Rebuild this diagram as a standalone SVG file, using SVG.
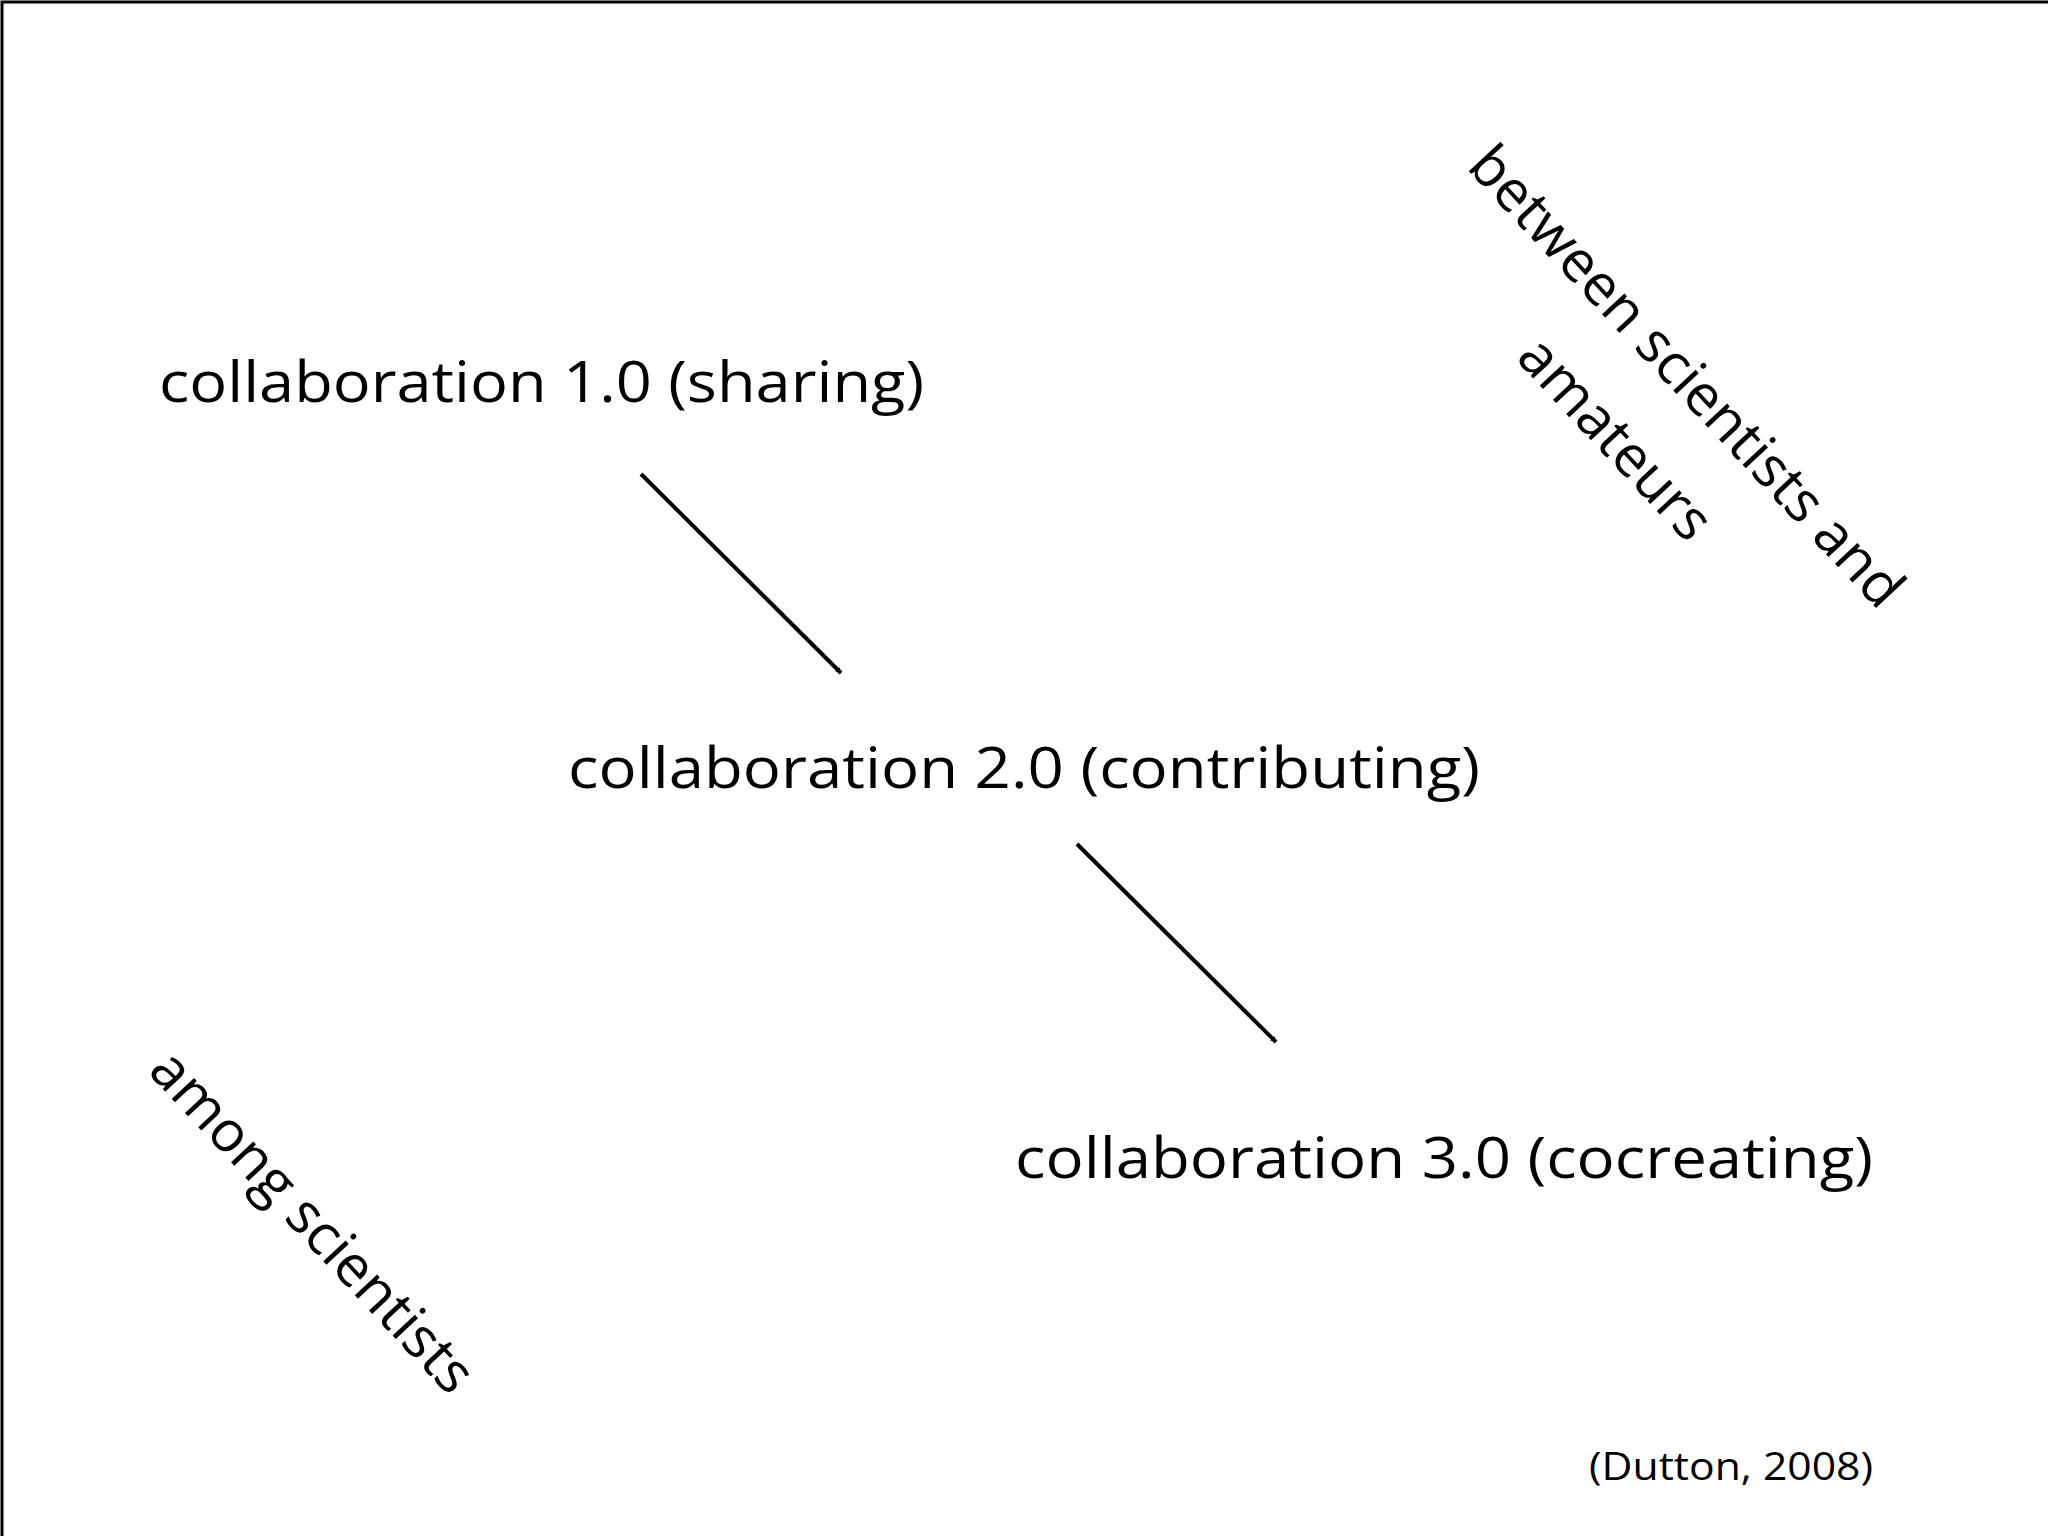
<svg xmlns="http://www.w3.org/2000/svg" width="2048" height="1536" viewBox="0 0 2048 1536">
<defs>
<style>
.t{font-family:"Open Sans","Liberation Sans",sans-serif;font-size:57px;fill:#000}
.c{stroke:#000;stroke-width:4;fill:none}
</style>
<marker id="ah" viewBox="0 0 10 10" refX="9" refY="5" markerWidth="6" markerHeight="6" orient="auto" markerUnits="userSpaceOnUse">
<path d="M0,0 L10,5 L0,10 z" fill="#000" transform="scale(1)"/>
</marker>
</defs>
<rect x="0" y="0" width="2048" height="1536" fill="#fff"/>
<rect x="2" y="2" width="2050" height="1540" fill="none" stroke="#000" stroke-width="3"/>
<g id="n1"><text class="t" x="159" y="402" textLength="765" lengthAdjust="spacingAndGlyphs">collaboration 1.0 (sharing)</text></g>
<g id="n2"><text class="t" x="568" y="788" textLength="912" lengthAdjust="spacingAndGlyphs">collaboration 2.0 (contributing)</text></g>
<g id="n3"><text class="t" x="1015" y="1178" textLength="858" lengthAdjust="spacingAndGlyphs">collaboration 3.0 (cocreating)</text></g>
<g id="among"><text class="t" text-anchor="middle" dy="0.35em" transform="translate(313,1221) rotate(47)">among scientists</text></g>
<g id="between"><text class="t" text-anchor="middle" dy="0.35em" transform="translate(1687,376) rotate(47)">between scientists and</text>
<text class="t" text-anchor="middle" dy="0.35em" transform="translate(1616,438) rotate(47)">amateurs</text></g>
<g id="cite"><text class="t" style="font-size:38px" x="1589" y="1480" textLength="284" lengthAdjust="spacingAndGlyphs">(Dutton, 2008)</text></g>
<g id="connectors">
<line class="c" x1="641" y1="474" x2="841" y2="673" marker-end="url(#ah)"/>
<line class="c" x1="1077" y1="844" x2="1276" y2="1042" marker-end="url(#ah)"/>
</g>
</svg>
